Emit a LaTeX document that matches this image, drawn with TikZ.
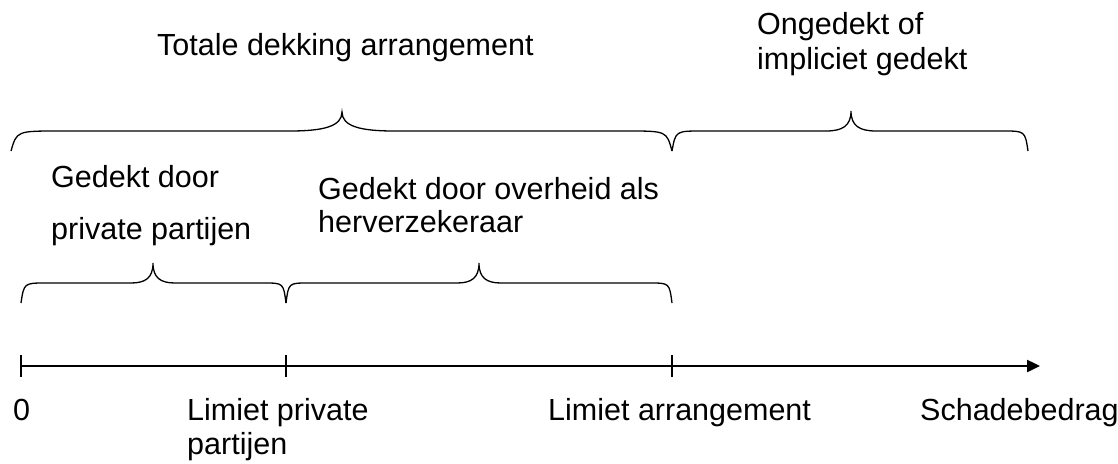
\documentclass[tikz,border=0pt]{standalone}
\usepackage{fontspec}
\setmainfont{Liberation Sans}
\usetikzlibrary{arrows.meta}
\tikzset{
  lbl/.style={anchor=base west, inner sep=0pt, font=\fontsize{30.5}{36}\selectfont},
  bracepath/.style={line width=1.3pt},
  axisline/.style={line width=2.4pt, -{Triangle[length=13pt,width=12pt]}},
  tickline/.style={line width=1.2pt}
}
% #1 x0, #2 x1, #3 xm, #4 yend, #5 yline, #6 ytip, #7 wL, #8 wM, #9 wR
\newcommand\mybrace[9]{%
  \draw[bracepath] (#1,#4) .. controls (#1+0.12*#7,#5) .. (#1+#7,#5)
    -- (#3-#8,#5) .. controls (#3-0.35*#8,#5) and (#3,#5-0.25*#5+0.25*#6) .. (#3,#6)
    .. controls (#3,#5-0.25*#5+0.25*#6) and (#3+0.35*#8,#5) .. (#3+#8,#5)
    -- (#2-#9,#5) .. controls (#2-0.12*#9,#5) .. (#2,#4);
}
\begin{document}
\begin{tikzpicture}[x=1pt,y=-1pt]
\useasboundingbox (0,0) rectangle (1118,463);

% braces
\mybrace{11}{672}{342}{151}{131}{112}{48}{52}{45}
\mybrace{672}{1028}{851}{151}{131}{111}{30}{25}{25}
\mybrace{21}{286}{153}{303}{283}{263}{25}{22}{22}
\mybrace{286}{672}{479}{303}{283}{263}{22}{22}{22}

% axis
\coordinate (ax0) at (21,366);
\coordinate (ax1) at (1040,366);
\draw[axisline] (ax0) -- (ax1);
\coordinate (t0a) at (21,355); \coordinate (t0b) at (21,377);
\coordinate (t1a) at (286,355); \coordinate (t1b) at (286,377);
\coordinate (t2a) at (672,355); \coordinate (t2b) at (672,377);
\draw[tickline] (t0a) -- (t0b);
\draw[tickline] (t1a) -- (t1b);
\draw[tickline] (t2a) -- (t2b);

% labels
\node[lbl] (totale) at (157,55) {Totale dekking arrangement};
\node[lbl] (onged1) at (757,34) {Ongedekt of};
\node[lbl] (onged2) at (757,69) {impliciet gedekt};
\node[lbl] (priv1) at (51,187) {Gedekt door};
\node[lbl] (priv2) at (51,239) {private partijen};
\node[lbl] (over1) at (318,199) {Gedekt door overheid als};
\node[lbl] (over2) at (318,232) {herverzekeraar};
\node[lbl] (zero) at (13,420) {0};
\node[lbl] (limp1) at (187,420) {Limiet private};
\node[lbl] (limp2) at (187,454) {partijen};
\node[lbl] (lima) at (548,420) {Limiet arrangement};
\node[lbl] (schade) at (920,420) {Schadebedrag};
\end{tikzpicture}
\end{document}
